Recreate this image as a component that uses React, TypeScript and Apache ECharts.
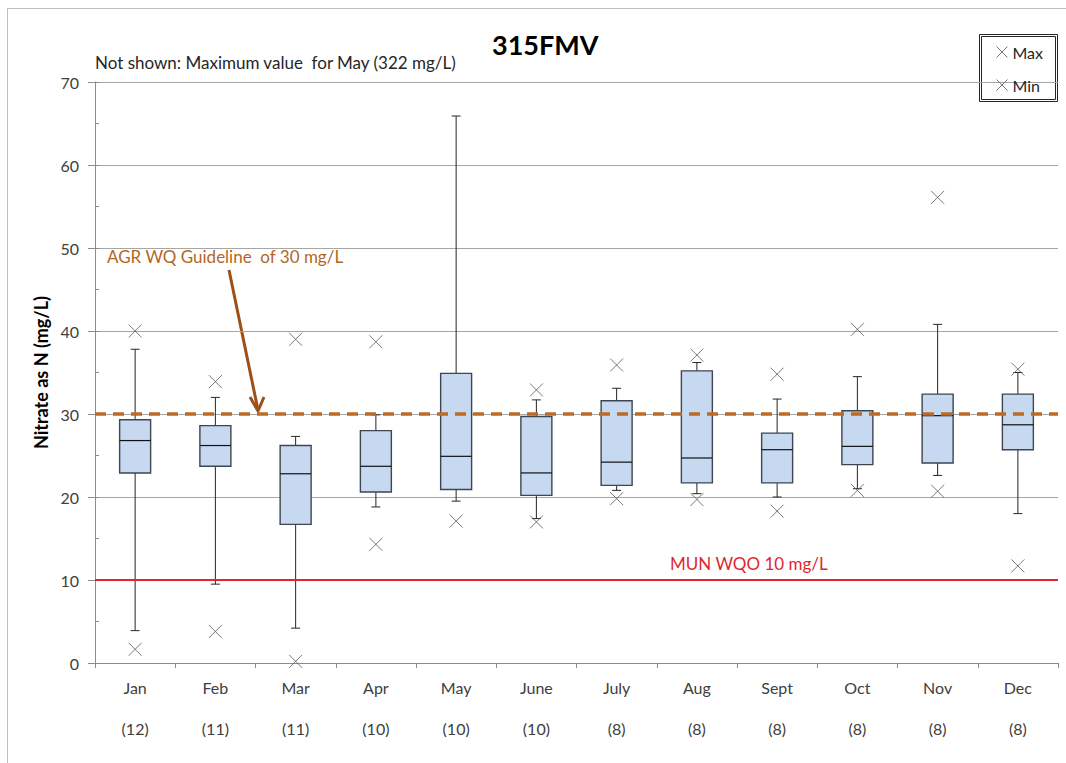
import React, { useEffect, useRef } from "react";
import * as echarts from "echarts";

const months = ["Jan", "Feb", "Mar", "Apr", "May", "June", "July", "Aug", "Sept", "Oct", "Nov", "Dec"];
const counts = [12, 11, 11, 10, 10, 10, 8, 8, 8, 8, 8, 8];
const whiskerLow = [3.9, 9.5, 4.2, 18.8, 19.5, 17.4, 20.8, 20.4, 20.0, 21.0, 22.6, 18.0];
const q1 = [22.9, 23.7, 16.7, 20.6, 20.9, 20.2, 21.4, 21.7, 21.7, 23.9, 24.1, 25.7];
const median = [26.8, 26.2, 22.8, 23.7, 24.9, 22.9, 24.2, 24.7, 25.7, 26.1, 29.8, 28.7];
const q3 = [29.3, 28.6, 26.2, 28.0, 34.9, 29.7, 31.6, 35.2, 27.7, 30.4, 32.4, 32.4];
const whiskerHigh = [37.8, 32.0, 27.3, 29.9, 65.9, 31.7, 33.1, 36.2, 31.8, 34.5, 40.8, 35.0];
const maxVals: (number | null)[] = [40.0, 33.9, 39.0, 38.7, null, 32.9, 35.9, 37.1, 34.8, 40.2, 56.1, 35.4];
const minVals = [1.65, 3.8, 0.2, 14.3, 17.1, 17.0, 19.8, 19.7, 18.3, 20.8, 20.7, 11.7];
const agrGuideline = 30;
const munWqo = 10;
const yTicks = { min: 0, max: 70, interval: 10 };

const FONT = "Lato, 'Open Sans', sans-serif";
const X_PATH = "path://M0,0L10,10M10,0L0,10";

export default function App() {
  const ref = useRef<HTMLDivElement>(null);
  useEffect(() => {
    if (!ref.current) return;
    const chart = echarts.init(ref.current, undefined, { renderer: "svg" });
    const boxData = months.map((_, i) => [i, whiskerLow[i], q1[i], median[i], q3[i], whiskerHigh[i]]);
    const xMarkStyle = { color: "none", borderColor: "#595959", borderWidth: 1 };
    chart.setOption({
      animation: false,
      backgroundColor: "#fff",
      textStyle: { fontFamily: FONT },
      title: [
        {
          text: "315FMV",
          left: 487,
          top: 26,
          textStyle: { fontFamily: FONT, fontSize: 27, fontWeight: "bold", color: "#000" },
        },
        {
          text: "Not shown: Maximum value  for May (322 mg/L)",
          left: 90,
          top: 49,
          textStyle: { fontFamily: FONT, fontSize: 17, fontWeight: "normal", color: "#262626" },
        },
      ],
      legend: {
        orient: "vertical",
        left: 994,
        top: 44,
        padding: 0,
        itemWidth: 11,
        itemHeight: 11,
        itemGap: 17,
        textStyle: { fontFamily: FONT, fontSize: 16, lineHeight: 16, color: "#262626" },
        data: [
          { name: "Max", icon: X_PATH, itemStyle: xMarkStyle },
          { name: "Min", icon: X_PATH, itemStyle: xMarkStyle },
        ],
      },
      grid: { left: 95, right: 8, top: 82, bottom: 100 },
      xAxis: {
        type: "category",
        data: months,
        boundaryGap: true,
        axisLine: { lineStyle: { color: "#8c8c8c" } },
        axisTick: { show: true, alignWithLabel: false, length: 5, lineStyle: { color: "#8c8c8c" } },
        axisLabel: {
          interval: 0,
          margin: 4,
          fontFamily: FONT,
          fontSize: 16,
          color: "#404040",
          lineHeight: 41,
          formatter: (v: string, i: number) => `${v}\n(${counts[i]})`,
        },
      },
      yAxis: [
        {
          type: "value",
          min: yTicks.min,
          max: yTicks.max,
          interval: yTicks.interval,
          name: "Nitrate as N (mg/L)",
          nameLocation: "middle",
          nameGap: 41,
          nameTextStyle: { fontFamily: FONT, fontSize: 18, fontWeight: "bold", color: "#000" },
          axisLine: { show: true, lineStyle: { color: "#8c8c8c" } },
          axisTick: { show: true, length: 7, lineStyle: { color: "#8c8c8c" } },
          axisLabel: { margin: 16, fontFamily: FONT, fontSize: 16, color: "#404040" },
          splitLine: { show: true, lineStyle: { color: "#a6a6a6", width: 1 } },
        },
        {
          type: "value",
          position: "left",
          min: yTicks.min,
          max: yTicks.max,
          interval: yTicks.interval / 2,
          axisLine: { show: false },
          axisTick: { show: true, inside: true, length: 4, lineStyle: { color: "#8c8c8c" } },
          axisLabel: { show: false },
          splitLine: { show: false },
        },
      ],
      series: [
        {
          type: "custom",
          name: "Box",
          z: 2,
          data: boxData,
          encode: { x: 0, y: [1, 2, 3, 4, 5] },
          renderItem: (params: any, api: any) => {
            const idx = api.value(0);
            const lo = api.coord([idx, api.value(1)]);
            const b1 = api.coord([idx, api.value(2)]);
            const md = api.coord([idx, api.value(3)]);
            const b3 = api.coord([idx, api.value(4)]);
            const hi = api.coord([idx, api.value(5)]);
            const band = api.size([1, 0])[0];
            const half = band * 0.193;
            const cap = band * 0.056;
            const x = lo[0];
            const wStyle = { stroke: "#262626", lineWidth: 1 };
            return {
              type: "group",
              children: [
                { type: "line", shape: { x1: x, y1: hi[1], x2: x, y2: b3[1] }, style: wStyle },
                { type: "line", shape: { x1: x, y1: b1[1], x2: x, y2: lo[1] }, style: wStyle },
                { type: "line", shape: { x1: x - cap, y1: hi[1], x2: x + cap, y2: hi[1] }, style: wStyle },
                { type: "line", shape: { x1: x - cap, y1: lo[1], x2: x + cap, y2: lo[1] }, style: wStyle },
                {
                  type: "rect",
                  shape: { x: x - half, y: b3[1], width: half * 2, height: b1[1] - b3[1] },
                  style: { fill: "#c6d9f1", stroke: "#3d4651", lineWidth: 1.4 },
                },
                { type: "line", shape: { x1: x - half, y1: md[1], x2: x + half, y2: md[1] }, style: { stroke: "#111", lineWidth: 1.2 } },
              ],
            };
          },
        },
        {
          type: "scatter",
          name: "Max",
          z: 4,
          symbol: X_PATH,
          symbolSize: 13,
          itemStyle: xMarkStyle,
          data: maxVals.map((v) => (v === null ? "-" : v)),
        },
        {
          type: "scatter",
          name: "Min",
          z: 4,
          symbol: X_PATH,
          symbolSize: 13,
          itemStyle: xMarkStyle,
          data: minVals,
          markLine: {
            silent: true,
            symbol: ["none", "none"],
            label: { show: false },
            data: [
              { yAxis: agrGuideline, lineStyle: { color: "#bd6a24", width: 3.5, type: [11, 7] } },
              { yAxis: munWqo, lineStyle: { color: "#e3262c", width: 2, type: "solid" } },
            ],
          },
        },
      ],
      graphic: [
        {
          type: "rect",
          silent: true,
          shape: { x: 7.5, y: 8.5, width: 1080, height: 780 },
          style: { fill: "none", stroke: "#bfbfbf", lineWidth: 1 },
        },
        {
          type: "rect",
          silent: true,
          shape: { x: 979.5, y: 34.5, width: 78, height: 67 },
          style: { fill: "none", stroke: "#262626", lineWidth: 1 },
        },
        {
          type: "rect",
          silent: true,
          shape: { x: 981.5, y: 36.5, width: 74, height: 63 },
          style: { fill: "none", stroke: "#262626", lineWidth: 1 },
        },
        {
          type: "text",
          left: 107,
          top: 248,
          style: { text: "AGR WQ Guideline  of 30 mg/L", fill: "#b4661f", fontFamily: FONT, fontSize: 17 },
        },
        {
          type: "line",
          silent: true,
          shape: { x1: 229, y1: 270, x2: 258, y2: 410 },
          style: { stroke: "#9c5016", lineWidth: 3 },
        },
        {
          type: "polyline",
          silent: true,
          shape: { points: [[250, 397], [258, 411], [264, 397]] },
          style: { stroke: "#9c5016", lineWidth: 3, fill: "none" },
        },
        {
          type: "text",
          left: 670,
          top: 555,
          style: { text: "MUN WQO 10 mg/L", fill: "#e1262d", fontFamily: FONT, fontSize: 17 },
        },
      ],
    });
    return () => chart.dispose();
  }, []);
  return <div ref={ref} style={{ position: "fixed", left: 0, top: 0, width: 1066, height: 763 }} />;
}
